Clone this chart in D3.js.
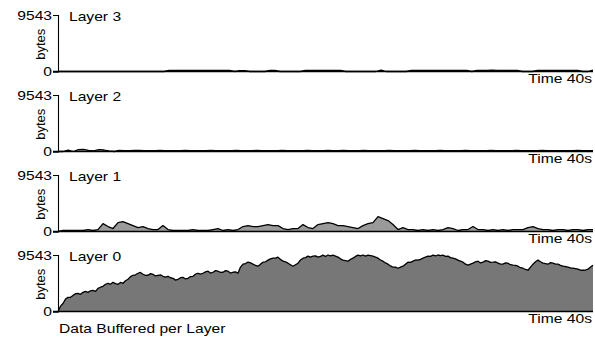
<!DOCTYPE html>
<html>
<head>
<meta charset="utf-8">
<script src="https://cdn.jsdelivr.net/npm/d3@7"></script>
<style>
  html, body { margin: 0; padding: 0; background: #fff; }
  svg { display: block; }
  text { font-family: "Liberation Sans", Arial, sans-serif; }
</style>
</head>
<body>
<svg id="chart" width="595" height="339"></svg>
<script>
// Bytes buffered per layer, sampled evenly over the 40 s run
const maxBytes = 9543;
const durationSec = 40;
const layerNames = ["Layer 3", "Layer 2", "Layer 1", "Layer 0"];
const timeLabel = "Time 40s";
const yLabel = "bytes";
const title = "Data Buffered per Layer";

const layer3 = [0,0,0,0,0,0,0,0,0,0,0,0,0,0,0,0,0,0,0,0,0,0,
  180,170,190,180,170,190,180,170,180,190,170,180,180,0,150,160,0,0,0,0,200,200,0,0,0,0,0,
  170,180,170,190,170,180,170,180,0,0,0,0,0,0,0,250,0,0,0,0,0,
  170,180,170,180,170,190,170,180,170,180,170,170,0,
  200,190,200,210,190,200,200,200,200,0,0,0,
  170,180,170,190,170,180,170,180,170,0,0,250];

const layer2 = [0,0,250,0,300,350,200,100,300,250,100,0,200,150,150,170,200,150,
  160,140,170,150,130,160,150,170,140,160,150,130,170,150,140,160,150,170,150,140,
  160,170,150,140,160,150,170,140,160,150,130,170,160,150,140,170,150,160,200,150,
  140,160,170,150,140,160,150,170,140,150,160,150,170,140,160,150,130,170,150,140,
  160,150,170,140,160,150,140,170,150,160,140,150,170,150,140,160,150,170,140,160,
  150,160,140,150,170,150,160,140];

const layer1 = [0,170,170,170,170,170,330,170,330,1340,840,500,1510,1670,1340,1000,670,840,500,330,
  330,1000,330,170,170,170,170,330,170,170,170,330,500,170,330,170,330,840,1000,840,
  840,1000,1170,1000,1000,500,330,500,500,1170,670,500,1170,1340,1510,1340,1000,1000,840,670,
  500,1000,1340,1510,2510,2180,1840,1170,330,670,330,330,170,330,170,330,170,330,670,500,
  170,330,330,840,330,330,170,330,170,330,170,330,330,330,670,840,500,330,330,170,
  330,330,170,330,330,170,330,330];

const layer0 = [0,900,1360,2100,2380,2400,2720,3000,3060,2900,3230,3400,3230,3500,3570,3400,
  3910,4100,4250,4600,4760,4600,4930,4700,4590,4900,4760,5200,5440,5900,6120,6200,6460,6600,
  6290,6100,6120,6400,6290,6000,6120,6200,5950,5800,5950,5700,5610,5300,5440,5700,5780,5500,
  5610,5900,5950,6300,6460,6300,6460,6700,6800,6500,6630,6900,6800,6600,6630,6900,6800,6500,
  6630,6700,6460,7500,7990,8100,8330,8200,7990,7800,7650,8000,8330,8400,8670,8900,9010,9000,
  9180,8800,8500,8400,8160,7900,7650,7900,8160,8700,9010,9100,9350,9200,9350,9400,9180,9300,
  9520,9300,9543,9400,9520,9350,9180,8900,8670,8600,8500,8800,9010,9300,9520,9400,9543,9350,
  9520,9450,9350,9200,9010,8700,8500,8200,7990,7700,7480,7500,7310,7500,7650,8000,8330,8300,
  8500,8700,8670,8800,9010,9200,9350,9300,9520,9400,9543,9450,9520,9300,9350,9100,9010,8900,
  8670,8500,8330,8000,7820,8000,8160,8400,8500,8200,8330,8600,8500,8300,8330,8400,8160,8000,
  7990,8200,8160,7900,7820,7800,7650,7400,7310,7100,6970,7500,7990,8400,8670,8400,8160,8100,
  7990,8250,8160,8000,7990,7800,7650,7600,7480,7350,7310,7250,7140,7000,6970,7000,7140,7500,
  7820];

const seriesList = [layer3, layer2, layer1, layer0];
const fills = ["#9a9a9a", "#9a9a9a", "#9a9a9a", "#777777"];

// glyphs are drawn a little wider than tall
const fontSize = 12.6;
const widen = 1.24;

const svg = d3.select("#chart");
const x = d3.scaleLinear().domain([0, durationSec]).range([58, 593]);
const panelTops = [15, 95, 175, 255];
const panelH = 56.5;

function label(parent, px, py, str, anchor) {
  return parent.append("g")
    .attr("transform", `translate(${px},${py}) scale(${widen},1)`)
    .append("text")
    .attr("text-anchor", anchor || "start")
    .attr("font-size", fontSize)
    .attr("fill", "#000")
    .text(str);
}

seriesList.forEach((values, i) => {
  const top = panelTops[i];
  const y = d3.scaleLinear().domain([0, maxBytes]).range([top + panelH, top]);
  const step = durationSec / (values.length - 1);
  const pts = values.map((v, k) => ({ t: k * step, v }));

  const g = svg.append("g");

  g.append("path")
    .datum(pts)
    .attr("fill", fills[i])
    .attr("d", d3.area().x(d => x(d.t)).y0(y(0)).y1(d => y(d.v)));

  g.append("path")
    .datum(pts)
    .attr("fill", "none")
    .attr("stroke", "#000")
    .attr("stroke-width", 1.3)
    .attr("stroke-linejoin", "round")
    .attr("d", d3.line().x(d => x(d.t)).y(d => y(d.v)));

  // y axis with the bracket-style domain
  const yAxis = g.append("g")
    .attr("transform", `translate(58,0)`)
    .call(d3.axisLeft(y).tickValues([0, maxBytes]).tickSize(5).tickFormat(d3.format("d")));
  yAxis.selectAll("text")
    .attr("font-size", fontSize).attr("fill", "#000")
    .attr("font-family", "Liberation Sans, Arial, sans-serif")
    .attr("x", -6 / widen)
    .attr("transform", `scale(${widen},1)`);
  yAxis.selectAll("line").attr("stroke", "#000");
  yAxis.select(".domain").attr("stroke", "#000").attr("stroke-width", 1.1);

  // time axis baseline
  g.append("line")
    .attr("x1", 53).attr("x2", x(durationSec))
    .attr("y1", y(0)).attr("y2", y(0))
    .attr("stroke", "#000").attr("stroke-width", 1.3);

  label(g, 69, top + 6, layerNames[i]);

  g.append("text")
    .attr("transform", `translate(45,${top + panelH / 2 + 1}) rotate(-90)`)
    .attr("text-anchor", "middle")
    .attr("font-size", 13)
    .text(yLabel);

  label(g, 592, y(0) + 11, timeLabel, "end");
});

label(svg, 59, 333, title);
</script>
</body>
</html>
